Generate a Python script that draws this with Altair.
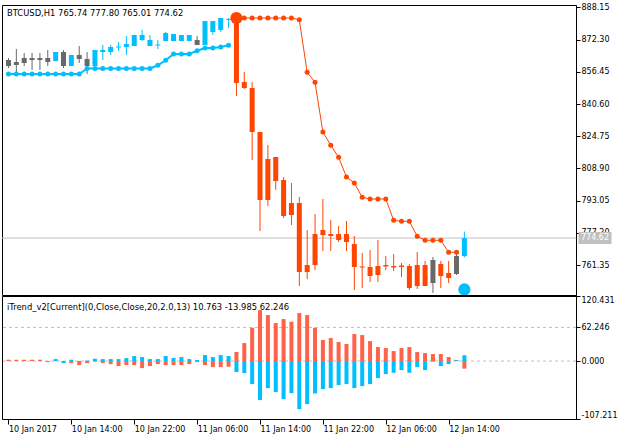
import altair as alt
import pandas as pd

FONT = "DejaVu Sans"

# ---------------- data ----------------
bar_index = list(range(59))
opens = [862.25, 861.27, 863.24, 863.24, 863.24, 863.24, 861.76, 866.19, 859.30, 864.72,
         862.75, 859.30, 866.19, 866.19, 868.41, 868.65, 869.15, 872.10, 869.15, 869.39,
         871.61, 871.61, 871.61, 871.61, 872.10, 869.64, 876.04, 877.02, 881.94, 883.42,
         851.43, 848.47, 826.82, 813.53, 814.51, 803.19, 791.87, 791.87, 761.35, 776.61,
         778.58, 776.61, 776.61, 776.61, 771.69, 760.62, 760.37, 760.86, 761.35, 760.86,
         761.11, 760.86, 761.35, 761.35, 763.81, 761.84, 757.42, 765.78, 765.74]
highs = [863.24, 867.67, 865.70, 865.70, 865.70, 867.18, 866.19, 867.18, 864.72, 869.15,
         866.19, 867.18, 869.64, 869.64, 871.11, 874.07, 874.56, 877.02, 874.56, 872.10,
         876.04, 875.05, 874.56, 874.56, 874.07, 881.45, 881.45, 882.93, 882.93, 883.42,
         856.35, 851.43, 826.82, 820.42, 814.51, 804.67, 801.71, 794.82, 778.58, 786.45,
         793.84, 783.50, 780.55, 783.01, 775.63, 767.26, 768.74, 773.66, 765.78, 766.76,
         762.33, 761.84, 767.75, 763.32, 765.29, 763.32, 763.32, 767.75, 777.80]
lows = [858.32, 854.87, 859.30, 857.33, 857.33, 859.30, 861.76, 858.32, 859.30, 860.78,
        855.36, 859.30, 862.25, 864.72, 866.68, 864.72, 869.15, 871.61, 869.15, 867.67,
        871.61, 871.61, 871.61, 871.61, 869.64, 869.64, 874.56, 876.04, 878.00, 844.56,
        847.98, 813.04, 778.09, 790.39, 798.28, 784.49, 781.04, 751.01, 754.44, 758.89,
        768.24, 768.24, 772.67, 768.24, 749.05, 750.03, 752.98, 752.98, 758.89, 758.40,
        755.45, 749.05, 749.54, 751.01, 747.57, 750.03, 752.49, 756.43, 765.01]
closes = [859.30, 859.79, 860.78, 862.25, 862.25, 861.27, 866.19, 859.30, 864.72, 862.75,
          859.30, 867.18, 867.18, 868.65, 868.90, 870.13, 874.56, 874.56, 872.10, 869.88,
          875.54, 875.05, 874.56, 874.56, 869.64, 881.45, 881.45, 882.93, 882.43, 850.93,
          848.47, 826.82, 793.35, 793.35, 802.70, 785.47, 785.98, 757.91, 757.91, 761.35,
          776.12, 775.63, 773.66, 772.67, 760.37, 760.12, 755.94, 756.43, 760.62, 760.12,
          760.37, 750.03, 751.01, 751.01, 752.49, 755.94, 754.96, 756.92, 774.62]
candle_trend = ["flat", "flat", "flat", "flat", "flat", "flat", "up", "flat", "up", "flat",
                "flat", "up", "up", "up", "up", "up", "up", "up", "up", "up",
                "up", "up", "up", "up", "flat", "up", "up", "up", "up", "down",
                "down", "down", "down", "down", "down", "down", "down", "down", "down", "down",
                "down", "down", "down", "down", "down", "down", "down", "down", "down", "down",
                "down", "down", "down", "down", "flat", "down", "down", "flat", "up"]

up_trail_index = list(range(0, 29))
up_trail = [855.36, 855.36, 855.36, 855.36, 855.36, 855.36, 855.36, 855.36, 855.36, 855.36,
            858.07, 858.07, 858.07, 858.07, 858.07, 858.07, 858.07, 858.07, 858.07, 859.65,
            862.11, 865.21, 865.21, 865.21, 866.83, 868.16, 868.16, 868.65, 869.49]
down_trail_index = list(range(29, 58))
down_trail = [882.93, 882.93, 882.93, 882.93, 882.93, 882.93, 882.93, 882.93, 882.09, 856.20,
              851.28, 826.82, 820.27, 814.36, 804.67, 801.71, 794.68, 793.84, 793.84, 793.84,
              783.36, 782.86, 782.86, 775.48, 773.51, 773.51, 773.51, 767.60, 767.60]

sell_signal_index = [29]
sell_signal_price = [882.93]
buy_signal_index = [58]
buy_signal_price = [749.30]

trend_blue = [0.0, 0.0, 0.0, 0.0, 0.0, 0.0, 3.7, -3.7, 2.5, -1.0,
              1.0, 4.3, 3.7, 3.7, 3.7, 5.6, 9.3, 7.4, 3.7, 3.7,
              9.3, 5.6, 7.4, 3.7, 1.9, 11.1, 7.4, 11.1, 9.3, -20.4,
              -22.2, -42.6, -72.2, -50.0, -57.4, -70.4, -59.3, -88.9, -79.6, -59.9,
              -51.9, -50.0, -44.4, -42.6, -50.0, -46.3, -42.6, -31.5, -24.1, -21.6,
              -16.7, -21.6, -11.1, -16.7, -1.0, -9.3, -5.6, 1.9, 10.763]
trend_red = [2.5, 2.5, 2.5, 2.5, 2.5, -1.9, 0.0, 0.0, -3.7, -7.4,
             -3.7, -1.0, -3.7, -5.6, -9.3, -7.4, -7.4, -13.0, -9.3, -5.6,
             -7.4, -7.4, -7.4, -5.6, -1.9, -7.4, -11.1, -11.1, -10.5, 16.7,
             33.3, 61.7, 94.4, 85.2, 70.4, 77.8, 72.8, 88.9, 85.2, 61.7,
             38.9, 42.6, 35.2, 31.5, 50.0, 48.1, 37.0, 25.9, 24.1, 18.5,
             24.1, 25.9, 16.7, 14.8, 13.0, 13.0, 7.4, 0.5, -13.985]

price_ticks = [761.35, 777.20, 793.05, 808.90, 824.75, 840.60, 856.45, 872.30, 888.15]
indicator_ticks = [-107.211, 0.0, 62.246, 120.431]
indicator_levels = [0.0, 62.246]
time_tick_index = [0, 8, 16, 24, 32, 40, 48, 56]
time_labels = ["10 Jan 2017", "10 Jan 14:00", "10 Jan 22:00", "11 Jan 06:00",
               "11 Jan 14:00", "11 Jan 22:00", "12 Jan 06:00", "12 Jan 14:00"]

price_title = ["BTCUSD,H1  765.74 777.80 765.01 774.62"]
indicator_title = ["iTrend_v2[Current](0,Close,Close,20,2.0,13) 10.763 -13.985 62.246"]
last_close = [774.62]

# ---------------- tables ----------------
candles = pd.DataFrame({"k": bar_index, "open": opens, "high": highs, "low": lows,
                        "close": closes, "trend": candle_trend})
up_df = pd.DataFrame({"k": up_trail_index, "v": up_trail})
down_df = pd.DataFrame({"k": down_trail_index, "v": down_trail})
sell_df = pd.DataFrame({"k": sell_signal_index, "v": sell_signal_price})
buy_df = pd.DataFrame({"k": buy_signal_index, "v": buy_signal_price})
ind_df = pd.DataFrame({"k": bar_index, "blue": trend_blue, "red": trend_red})
lvl_df = pd.DataFrame({"lvl": indicator_levels})
last_df = pd.DataFrame({"v": last_close, "t": ["%.2f" % last_close[0]]})

BLUE = "#00BFFF"
RED = "#FF4500"
HRED = "#FF6347"
GRAY = "#696969"
SILVER = "#C0C0C0"

xscale = alt.Scale(domain=[-0.1875, 71.5625], nice=False, zero=False)
pscale = alt.Scale(domain=[746.59, 889.33], nice=False, zero=False)
iscale = alt.Scale(domain=[-107.211, 120.431], nice=False, zero=False)

paxis = alt.Axis(orient="right", values=price_ticks, format=".2f", title=None, grid=False,
                 tickSize=4, labelPadding=1, labelFlush=False, labelOverlap=False,
                 labelFont=FONT, labelFontSize=8, labelColor="black", tickColor="black",
                 domainColor="black")
iaxis = alt.Axis(orient="right", values=indicator_ticks, title=None, grid=False,
                 labelExpr="replace(format(datum.value, '.3f'), '\u2212', '-')",
                 tickSize=4, labelPadding=1, labelFlush=True, labelOverlap=False,
                 labelFont=FONT, labelFontSize=8, labelColor="black", tickColor="black",
                 domainColor="black")
label_js = "[" + ",".join("'%s'" % s for s in time_labels) + "]"
xaxis = alt.Axis(values=time_tick_index, labelExpr=label_js + "[datum.value / 8]",
                 title=None, grid=False, tickSize=5, labelPadding=1, labelAlign="left",
                 labelFlush=False, labelOverlap=False, labelFont=FONT, labelFontSize=8,
                 labelColor="black", tickColor="black", domainColor="black")

X = alt.X("k:Q", scale=xscale, axis=None)
ccol = alt.Color("trend:N", scale=alt.Scale(domain=["up", "down", "flat"],
                                             range=[BLUE, RED, GRAY]), legend=None)


def PY(field):
    return alt.Y(field, scale=pscale, axis=paxis)


last_line = alt.Chart(last_df).mark_rule(color=SILVER, strokeWidth=1).encode(y=PY("v:Q"))
wicks = alt.Chart(candles).mark_rule(strokeWidth=1).encode(
    x=X, y=PY("low:Q"), y2="high:Q", color=ccol)
bodies = alt.Chart(candles).mark_bar(size=5).encode(
    x=X, y=PY("open:Q"), y2="close:Q", color=ccol)
up_line = alt.Chart(up_df).mark_line(color=BLUE, strokeWidth=2).encode(x=X, y=PY("v:Q"))
up_dots = alt.Chart(up_df).mark_point(filled=True, color=BLUE, size=25, opacity=1).encode(
    x=X, y=PY("v:Q"))
dn_line = alt.Chart(down_df).mark_line(color=RED, strokeWidth=1).encode(x=X, y=PY("v:Q"))
dn_dots = alt.Chart(down_df).mark_point(filled=True, color=RED, size=25, opacity=1).encode(
    x=X, y=PY("v:Q"))
sell_sig = alt.Chart(sell_df).mark_point(filled=True, size=150, opacity=1, color=RED,
                                         clip=True).encode(x=X, y=PY("v:Q"))
buy_sig = alt.Chart(buy_df).mark_point(filled=True, size=150, opacity=1, color=BLUE,
                                       clip=True).encode(x=X, y=PY("v:Q"))
ptitle = alt.Chart(pd.DataFrame({"t": price_title})).mark_text(
    align="left", baseline="middle", font=FONT, fontSize=8.4, color="black").encode(
    x=alt.value(5), y=alt.value(8), text="t:N")
last_box = alt.Chart(last_df).mark_point(
    shape="M-1,-0.36L1,-0.36L1,0.36L-1,0.36Z", size=1089, filled=True, color=SILVER,
    opacity=1).encode(x=alt.value(593), y=PY("v:Q"))
last_txt = alt.Chart(last_df).mark_text(
    align="center", baseline="middle", font=FONT, fontSize=8, color="white").encode(
    x=alt.value(593), y=PY("v:Q"), text="t:N")

main = alt.layer(last_line, wicks, bodies, up_line, up_dots, dn_line, dn_dots, sell_sig,
                 buy_sig, ptitle, last_box, last_txt).properties(width=574, height=290)


def IY(field):
    return alt.Y(field, scale=iscale, axis=iaxis)


XI = alt.X("k:Q", scale=xscale, axis=xaxis)
levels = alt.Chart(lvl_df).mark_rule(color=SILVER, strokeDash=[3, 3], strokeWidth=1).encode(
    y=IY("lvl:Q"))
bblue = alt.Chart(ind_df).mark_bar(size=4, color=BLUE).encode(
    x=XI, y=IY("blue:Q"), y2=alt.datum(0))
bred = alt.Chart(ind_df).mark_bar(size=4, color=HRED).encode(
    x=XI, y=IY("red:Q"), y2=alt.datum(0))
ititle = alt.Chart(pd.DataFrame({"t": indicator_title})).mark_text(
    align="left", baseline="middle", font=FONT, fontSize=8.4, color="black").encode(
    x=alt.value(5), y=alt.value(11), text="t:N")

lower = alt.layer(levels, bblue, bred, ititle).properties(width=574, height=123)

chart = alt.vconcat(main, lower, spacing=1, bounds="flush").resolve_scale(
    x="independent", y="independent", color="independent"
).properties(
    padding={"left": 1, "top": 2, "right": 0, "bottom": 0},
    background="white",
).configure_view(stroke="black", strokeWidth=1)

chart.save("out.html", embed_options={"renderer": "svg", "actions": False})
